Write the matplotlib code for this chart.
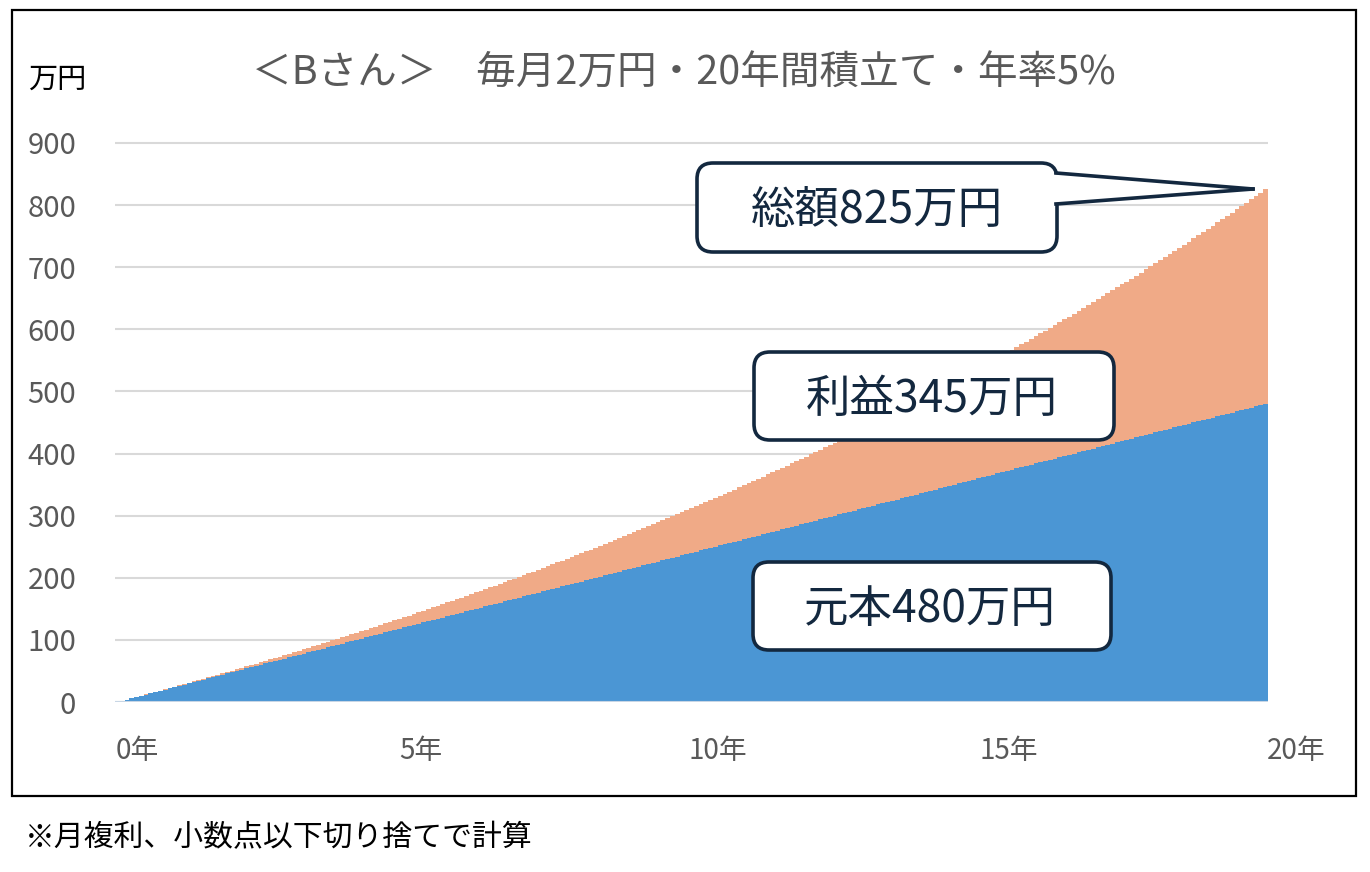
import numpy as np
import matplotlib
matplotlib.use('Agg')
import matplotlib.pyplot as plt
from matplotlib.patches import FancyBboxPatch, Polygon, Rectangle
from matplotlib.lines import Line2D
from matplotlib.transforms import Affine2D

# 元本（万円）: 月0〜240
principal_man = [
    0, 2, 4, 6, 8, 10, 12, 14, 16, 18, 20, 22,
    24, 26, 28, 30, 32, 34, 36, 38, 40, 42, 44, 46,
    48, 50, 52, 54, 56, 58, 60, 62, 64, 66, 68, 70,
    72, 74, 76, 78, 80, 82, 84, 86, 88, 90, 92, 94,
    96, 98, 100, 102, 104, 106, 108, 110, 112, 114, 116, 118,
    120, 122, 124, 126, 128, 130, 132, 134, 136, 138, 140, 142,
    144, 146, 148, 150, 152, 154, 156, 158, 160, 162, 164, 166,
    168, 170, 172, 174, 176, 178, 180, 182, 184, 186, 188, 190,
    192, 194, 196, 198, 200, 202, 204, 206, 208, 210, 212, 214,
    216, 218, 220, 222, 224, 226, 228, 230, 232, 234, 236, 238,
    240, 242, 244, 246, 248, 250, 252, 254, 256, 258, 260, 262,
    264, 266, 268, 270, 272, 274, 276, 278, 280, 282, 284, 286,
    288, 290, 292, 294, 296, 298, 300, 302, 304, 306, 308, 310,
    312, 314, 316, 318, 320, 322, 324, 326, 328, 330, 332, 334,
    336, 338, 340, 342, 344, 346, 348, 350, 352, 354, 356, 358,
    360, 362, 364, 366, 368, 370, 372, 374, 376, 378, 380, 382,
    384, 386, 388, 390, 392, 394, 396, 398, 400, 402, 404, 406,
    408, 410, 412, 414, 416, 418, 420, 422, 424, 426, 428, 430,
    432, 434, 436, 438, 440, 442, 444, 446, 448, 450, 452, 454,
    456, 458, 460, 462, 464, 466, 468, 470, 472, 474, 476, 478,
    480]

# 総額（万円）
total_man = [
    0, 2.0, 4.0, 6.1, 8.1, 10.1, 12.2, 14.2, 16.3, 18.4, 20.5, 22.6,
    24.7, 26.8, 28.9, 31.0, 33.2, 35.3, 37.5, 39.6, 41.8, 44.0, 46.2, 48.4,
    50.6, 52.8, 55.0, 57.3, 59.5, 61.8, 64.0, 66.3, 68.6, 70.9, 73.2, 75.5,
    77.8, 80.2, 82.5, 84.9, 87.2, 89.6, 92.0, 94.4, 96.8, 99.2, 101.6, 104.0,
    106.5, 108.9, 111.4, 113.9, 116.3, 118.8, 121.3, 123.9, 126.4, 128.9, 131.5, 134.0,
    136.6, 139.2, 141.7, 144.3, 147.0, 149.6, 152.2, 154.8, 157.5, 160.2, 162.8, 165.5,
    168.2, 170.9, 173.7, 176.4, 179.1, 181.9, 184.7, 187.4, 190.2, 193.0, 195.8, 198.7,
    201.5, 204.3, 207.2, 210.1, 213.0, 215.9, 218.8, 221.7, 224.6, 227.6, 230.5, 233.5,
    236.5, 239.5, 242.5, 245.5, 248.5, 251.6, 254.6, 257.7, 260.8, 263.9, 267.0, 270.1,
    273.2, 276.4, 279.5, 282.7, 285.9, 289.1, 292.3, 295.5, 298.8, 302.0, 305.3, 308.6,
    311.9, 315.2, 318.5, 321.8, 325.2, 328.5, 331.9, 335.3, 338.7, 342.1, 345.6, 349.0,
    352.5, 356.0, 359.4, 362.9, 366.5, 370.0, 373.6, 377.1, 380.7, 384.3, 387.9, 391.5,
    395.2, 398.8, 402.5, 406.2, 409.9, 413.6, 417.3, 421.1, 424.8, 428.6, 432.4, 436.2,
    440.0, 443.9, 447.7, 451.6, 455.5, 459.4, 463.3, 467.3, 471.2, 475.2, 479.2, 483.2,
    487.2, 491.3, 495.3, 499.4, 503.5, 507.6, 511.7, 515.8, 520.0, 524.2, 528.4, 532.6,
    536.8, 541.1, 545.3, 549.6, 553.9, 558.2, 562.5, 566.9, 571.3, 575.7, 580.1, 584.5,
    588.9, 593.4, 597.9, 602.4, 606.9, 611.4, 616.0, 620.6, 625.2, 629.8, 634.4, 639.0,
    643.7, 648.4, 653.1, 657.9, 662.6, 667.4, 672.2, 677.0, 681.8, 686.6, 691.5, 696.4,
    701.3, 706.2, 711.2, 716.2, 721.2, 726.2, 731.2, 736.3, 741.3, 746.4, 751.6, 756.7,
    761.9, 767.0, 772.2, 777.5, 782.7, 788.0, 793.3, 798.6, 803.9, 809.3, 814.7, 820.1,
    825.5]

y_ticks = [0, 100, 200, 300, 400, 500, 600, 700, 800, 900]
x_labels = ['0年', '5年', '10年', '15年', '20年']
x_label_pos = [4.1, 63.5, 125.5, 186.4, 246.4]  # 月の位置（ラベルの中心）

title = '＜Bさん＞　毎月2万円・20年間積立て・年率5%'
note = '※月複利、小数点以下切り捨てで計算'

BLUE = '#4b96d4'
SALMON = '#f0aa87'
NAVY = '#13283f'
GRAY = '#595959'

plt.rcParams['font.family'] = ['Noto Sans CJK JP', 'DejaVu Sans']

W, H = 1370, 872
fig = plt.figure(figsize=(W / 100, H / 100), dpi=100)
px = Affine2D().scale(1 / W, -1 / H).translate(0, 1) + fig.transFigure  # ピクセル座標

top = 702 - 559 * 905 / 900
ax = fig.add_axes([115 / W, 1 - 702 / H, (1268 - 115) / W, (702 - top) / H])

principal = np.array(principal_man)
total = np.array(total_man)
profit = total - principal
x = np.arange(len(total))

ax.bar(x, principal, width=1.0, color=BLUE, linewidth=0, antialiased=False, zorder=2)
ax.bar(x, profit, bottom=principal, width=1.0, color=SALMON, linewidth=0,
       antialiased=False, zorder=2)

ax.set_xlim(-0.5, len(x) - 0.5)
ax.set_ylim(0, 905)
ax.set_yticks(y_ticks)
ax.set_xticks([])
ax.yaxis.grid(True, color='#d9d9d9', lw=1.5)
ax.set_axisbelow(True)
for s in ax.spines.values():
    s.set_visible(False)
ax.tick_params(axis='y', length=0, pad=28, labelsize=21, labelcolor=GRAY)
ax.axhline(0, color='#c8d6e5', lw=1.5, zorder=3)

ya = -(751 - 702) / (702 - top)
for pos, lab in zip(x_label_pos, x_labels):
    ax.text(pos, ya, lab, transform=ax.get_xaxis_transform(), ha='center', va='center',
            fontsize=20, color=GRAY, clip_on=False)

# 外枠
fig.add_artist(Rectangle((12, 10), 1344, 786, transform=px, fill=False, ec='black', lw=1.6))

fig.text(684, 74, title, transform=px, ha='center', va='center', fontsize=28.5, color=GRAY)
fig.text(57, 80, '万円', transform=px, ha='center', va='center', fontsize=21, color='black')
fig.text(25, 838, note, transform=px, ha='left', va='center', fontsize=21.5, color='black')


def label_box(x0, y0, x1, y1, text, cx, cy):
    fig.add_artist(FancyBboxPatch((x0, y0), x1 - x0, y1 - y0,
                                  boxstyle='round,pad=0,rounding_size=16', transform=px,
                                  fc='white', ec=NAVY, lw=2.6, zorder=5))
    fig.text(cx, cy, text, transform=px, ha='center', va='center', fontsize=32,
             color=NAVY, zorder=7)


label_box(697, 163, 1057, 252, '総額%d万円' % int(total[-1]), 877, 210)
label_box(754, 352, 1114, 440, '利益%d万円' % int(profit[-1]), 932, 399)
label_box(753, 562, 1111, 650, '元本%d万円' % int(principal[-1]), 930, 609)

# 吹き出しの先
fig.add_artist(Polygon([(1052, 174), (1253, 189), (1052, 203)], closed=True, transform=px,
                       fc='white', ec='none', zorder=6))
fig.add_artist(Line2D([1056, 1253], [173, 189], transform=px, color=NAVY, lw=2.6, zorder=6))
fig.add_artist(Line2D([1056, 1253], [204, 189], transform=px, color=NAVY, lw=2.6, zorder=6))

fig.savefig('out.png', dpi=100)
